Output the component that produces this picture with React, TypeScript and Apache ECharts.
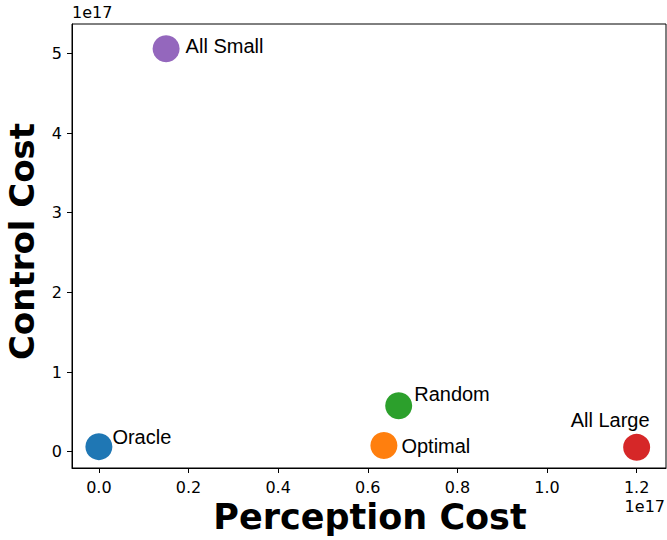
import React, { useEffect, useRef } from "react";
import * as echarts from "echarts";

// Values are in units of 1e17
const methods = ["Oracle", "Optimal", "Random", "All Large", "All Small"];
const perceptionCost = [0.0, 0.636, 0.669, 1.2, 0.15];
const controlCost = [0.063, 0.078, 0.577, 0.054, 5.06];
const colors = ["#1f77b4", "#ff7f0e", "#2ca02c", "#d62728", "#9467bd"];
const xTicks = [0, 0.2, 0.4, 0.6, 0.8, 1.0, 1.2];
const yTicks = [0, 1, 2, 3, 4, 5];

// label placement relative to marker centre (pixels)
const labelPlacement: Record<string, { offset: [number, number]; align: string }> = {
  Oracle: { offset: [13.5, -10], align: "left" },
  Optimal: { offset: [17.5, 1], align: "left" },
  Random: { offset: [15.5, -12], align: "left" },
  "All Large": { offset: [-26.5, -27], align: "center" },
  "All Small": { offset: [19.5, -2.5], align: "left" },
};

const tickFont = "DejaVu Sans";
const tickSize = 16;

export default function App() {
  const ref = useRef<HTMLDivElement>(null);
  useEffect(() => {
    if (!ref.current) return;
    const chart = echarts.init(ref.current, null, { renderer: "svg" });
    const data = methods.map((m, i) => ({
      value: [perceptionCost[i], controlCost[i]],
      name: m,
      itemStyle: { color: colors[i], opacity: 1 },
      label: {
        show: true,
        formatter: m,
        position: "inside",
        offset: labelPlacement[m].offset,
        align: labelPlacement[m].align,
        verticalAlign: "middle",
        color: "#000",
        fontFamily: "Liberation Sans",
        fontSize: 20,
      },
    }));
    chart.setOption({
      animation: false,
      backgroundColor: "#fff",
      grid: {
        left: 72,
        right: 1,
        top: 24,
        bottom: 72,
        show: true,
        borderColor: "#000",
        borderWidth: 1,
        backgroundColor: "transparent",
      },
      xAxis: {
        type: "value",
        min: -0.06,
        max: 1.2655,
        splitLine: { show: false },
        axisLine: { show: true, onZero: false, lineStyle: { color: "#000", width: 1 } },
        axisTick: { show: true, length: 5, customValues: xTicks, lineStyle: { color: "#000" } },
        axisLabel: {
          customValues: xTicks,
          formatter: (v: number) => v.toFixed(1),
          color: "#000",
          fontFamily: tickFont,
          fontSize: tickSize,
          margin: 11,
        },
      },
      yAxis: {
        type: "value",
        min: -0.205,
        max: 5.37,
        splitLine: { show: false },
        axisLine: { show: true, onZero: false, lineStyle: { color: "#000", width: 1 } },
        axisTick: { show: true, length: 5, customValues: yTicks, lineStyle: { color: "#000" } },
        axisLabel: {
          customValues: yTicks,
          formatter: (v: number) => String(v),
          color: "#000",
          fontFamily: tickFont,
          fontSize: tickSize,
          margin: 10,
        },
      },
      series: [
        {
          type: "scatter",
          symbol: "circle",
          symbolSize: 27,
          data,
        },
      ],
      graphic: [
        {
          type: "text",
          left: 72,
          top: 4,
          style: { text: "1e17", fontFamily: tickFont, fontSize: tickSize, fill: "#000" },
        },
        {
          type: "text",
          right: 2,
          top: 498,
          style: { text: "1e17", fontFamily: tickFont, fontSize: tickSize, fill: "#000" },
        },
        {
          type: "text",
          x: 370,
          y: 517,
          style: {
            text: "Perception Cost",
            fontFamily: "DejaVu Sans",
            fontWeight: "bold",
            fontSize: 35,
            fill: "#000",
            align: "center",
            verticalAlign: "middle",
          },
        },
        {
          type: "text",
          x: 22,
          y: 241.5,
          rotation: Math.PI / 2,
          style: {
            text: "Control Cost",
            fontFamily: "DejaVu Sans",
            fontWeight: "bold",
            fontSize: 34,
            fill: "#000",
            align: "center",
            verticalAlign: "middle",
          },
        },
      ],
    });
    return () => chart.dispose();
  }, []);
  return (
    <div
      ref={ref}
      style={{ position: "absolute", left: 0, top: 0, width: 667, height: 540 }}
    />
  );
}
